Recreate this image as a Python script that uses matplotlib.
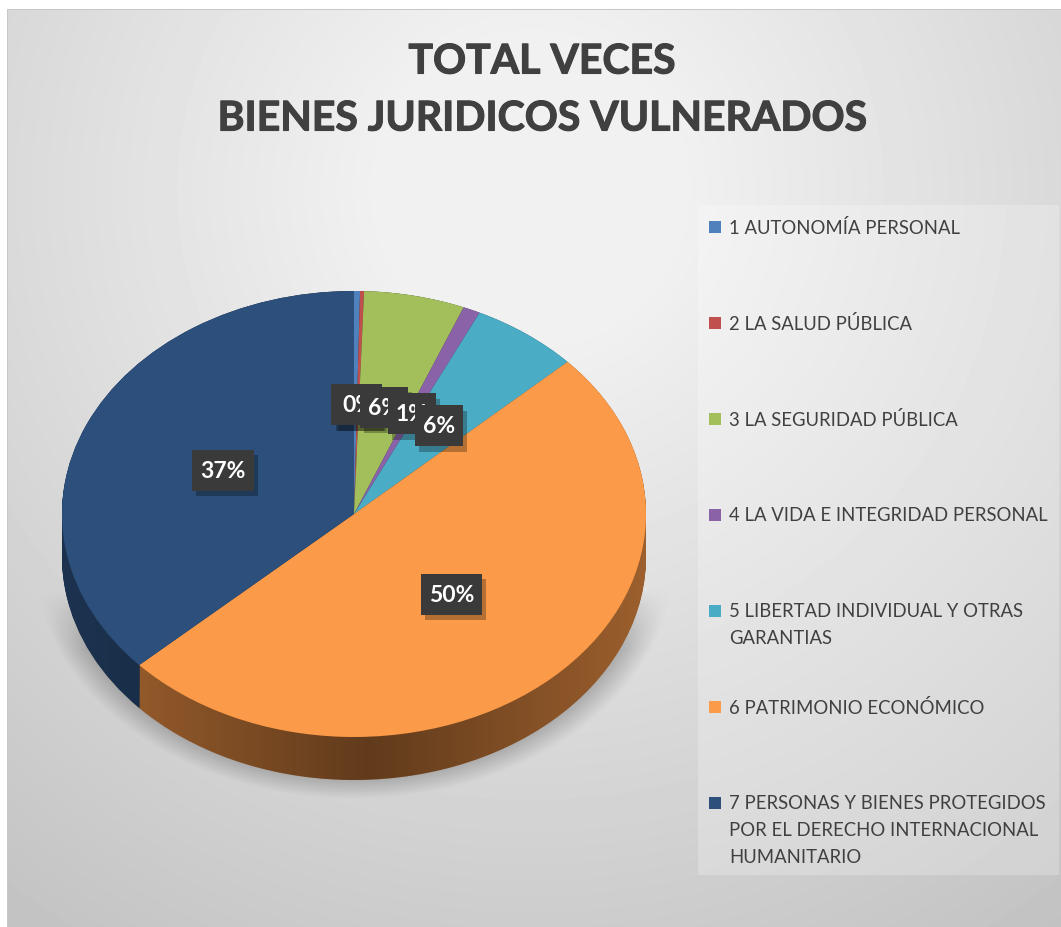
import numpy as np
import matplotlib
matplotlib.use("Agg")
import matplotlib.pyplot as plt
from matplotlib.patches import Rectangle
from matplotlib.path import Path
from matplotlib.patches import PathPatch
import matplotlib.patheffects as pe

plt.rcParams['font.family'] = ['Lato', 'DejaVu Sans']

title_lines = ["TOTAL VECES", "BIENES JURIDICOS VULNERADOS"]
categories = ["1 AUTONOMÍA PERSONAL", "2 LA SALUD PÚBLICA", "3 LA SEGURIDAD PÚBLICA",
              "4 LA VIDA E INTEGRIDAD PERSONAL", "5 LIBERTAD INDIVIDUAL Y OTRAS\nGARANTIAS",
              "6 PATRIMONIO ECONÓMICO",
              "7 PERSONAS Y BIENES PROTEGIDOS\nPOR EL DERECHO INTERNACIONAL\nHUMANITARIO"]
values = [0.33, 0.22, 5.55, 0.95, 5.95, 49.9, 36.7]
colors = ['#4f81bd', '#c0504d', '#a2bf5c', '#8a62a8', '#4bacc6', '#fb9a48', '#2c4f7c']

W, H = 1061, 928
fig = plt.figure(figsize=(W/100, H/100), dpi=100, facecolor='white')

# background, shadow, legend panel in pixel coordinates
bg = fig.add_axes([0, 0, 1, 1], zorder=0)
bg.set_xlim(0, W); bg.set_ylim(H, 0); bg.axis('off')
yy, xx = np.mgrid[0:H, 0:W]
d = np.hypot(xx - 530, yy - 190)
gray = np.clip(250 - 0.062*d, 190, 241) / 255
# soft shadow below the pie
cx, cy, rx, ry = 354, 515, 292, 223
sd = np.hypot((xx - cx)/(rx + 14), (yy - (cy + 42))/(ry + 8))
shadow = np.clip((1.05 - sd)/0.12, 0, 1) * np.clip((yy - 590)/60, 0, 1)
gray = gray * (1 - 0.28*shadow)
panel = (xx >= 698) & (xx <= 1058) & (yy >= 206) & (yy <= 875)
gray = np.where(panel, gray + (1 - gray)*0.22, gray)
gray[:10, :] = 1; gray[:, :7] = 1
gray[10, 7:] = 0.78; gray[10:, 7] = 0.78
bg.imshow(gray, cmap='gray', vmin=0, vmax=1, extent=(0, W, H, 0), aspect='auto', interpolation='nearest')
bg.set_xlim(0, W); bg.set_ylim(H, 0)

# title
title_fx = [pe.withStroke(linewidth=0.8, foreground='#404040')]
bg.text(542, 63, title_lines[0], ha='center', va='center', fontsize=29.5, fontweight='bold',
        color='#404040', path_effects=title_fx)
bg.text(542, 120, title_lines[1], ha='center', va='center', fontsize=29.5, fontweight='bold',
        color='#404040', path_effects=title_fx)

# legend
for i, (lab, col) in enumerate(zip(categories, colors)):
    y = 228 + 96*i
    bg.add_patch(Rectangle((709, y - 6), 12, 12, facecolor=col, edgecolor='none'))
    for j, part in enumerate(lab.split("\n")):
        bg.text(729, y + 27*j, part, ha='left', va='center', fontsize=13.35, color='#404040')

# pie: full-figure axes, one data unit = pie radius on each axis
ax = fig.add_axes([0, 0, 1, 1], zorder=1)
ax.patch.set_alpha(0)
depth = 43/ry
dark = [tuple(0.62*c for c in matplotlib.colors.to_rgb(col)) for col in colors]
for s in np.linspace(depth, 0, 45):
    ax.pie(values, colors=dark, startangle=90, counterclock=False, center=(0, -s),
           radius=1, wedgeprops=dict(linewidth=0, zorder=1, antialiased=True))
# shading of the side wall
t = np.linspace(0, np.pi, 200)
clip_xy = np.vstack([np.c_[np.cos(t), np.sin(t)], np.c_[-np.cos(t), -np.sin(t) - depth]])
clip = PathPatch(Path(np.vstack([clip_xy, clip_xy[0]])), transform=ax.transData, facecolor='none', edgecolor='none')
ax.add_patch(clip)
gx = np.linspace(-1, 1, 300)
alpha = 0.38*np.clip(1 - np.abs(gx - 0.05)/0.95, 0, 1)
rgba = np.zeros((1, 300, 4)); rgba[..., 3] = alpha
im = ax.imshow(rgba, extent=(-1, 1, -1 - depth, 1), aspect='auto', zorder=2, interpolation='bilinear')
im.set_clip_path(clip)

wedges, _, autotexts = ax.pie(values, colors=colors, startangle=90, counterclock=False, radius=1,
                              autopct='%1.0f%%', pctdistance=0.49,
                              wedgeprops=dict(linewidth=0, zorder=3))

def label_box(x0, y0, w, h, mutation_size):
    cxb, cyb = x0 + w/2, y0 + h/2
    hw = w/2 + 8
    hh = 20.5
    return Path([(cxb-hw, cyb-hh), (cxb+hw, cyb-hh), (cxb+hw, cyb+hh), (cxb-hw, cyb+hh), (cxb-hw, cyb-hh)],
                closed=True)

for i, t_ in enumerate(autotexts):
    t_.set(color='white', fontweight='bold', fontsize=16.5, zorder=5 + i*0.1, va='center', ha='center')
    t_.set_bbox(dict(boxstyle=label_box, facecolor='#3a3a3a', edgecolor='none'))
    t_.get_bbox_patch().set_path_effects([pe.withSimplePatchShadow(offset=(3, -4), shadow_rgbFace='black', alpha=0.28)])

ax.set_aspect('auto')
ax.set_xlim((0 - cx)/rx, (W - cx)/rx)
ax.set_ylim((cy - H)/ry, (cy - 0)/ry)
ax.axis('off')

fig.savefig('out.png', dpi=100, facecolor='white')
